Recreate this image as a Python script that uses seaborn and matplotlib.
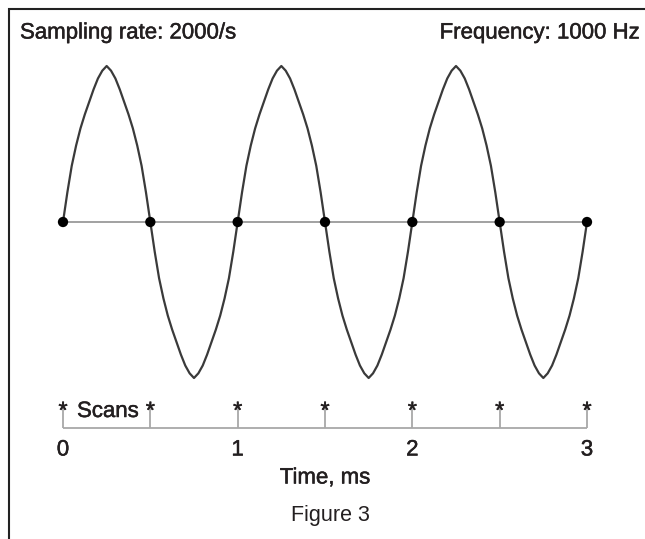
import numpy as np
import pandas as pd
import matplotlib
matplotlib.use("Agg")
import matplotlib.pyplot as plt
import matplotlib.patheffects as pe
import seaborn as sns

# one cycle of the signal (step 0.025 ms, amplitude normalised)
cycle = [0, 0.19, 0.36, 0.49, 0.60, 0.69, 0.77, 0.85, 0.92, 0.97, 1.00,
         0.97, 0.92, 0.85, 0.77, 0.69, 0.60, 0.49, 0.36, 0.19, 0,
         -0.19, -0.36, -0.49, -0.60, -0.69, -0.77, -0.85, -0.92, -0.97, -1.00,
         -0.97, -0.92, -0.85, -0.77, -0.69, -0.60, -0.49, -0.36, -0.19, 0]
n_cycles = 3
step_ms = 0.025
signal = cycle[:-1] * n_cycles + [0]
time_ms = np.arange(len(signal)) * step_ms

# scans at 2000/s
scan_times = [0, 0.5, 1.0, 1.5, 2.0, 2.5, 3.0]
scan_values = [0, 0, 0, 0, 0, 0, 0]
tick_values = [0, 1, 2, 3]
tick_labels = ["0", "1", "2", "3"]

df_sig = pd.DataFrame({"t": time_ms, "v": signal})
df_scan = pd.DataFrame({"t": scan_times, "v": scan_values})

sns.set_style("white")
plt.rcParams["font.family"] = ["Liberation Sans", "DejaVu Sans"]
ink = "#231f20"
fs = 16
bold_fx = [pe.withStroke(linewidth=0.35, foreground=ink)]
txt = dict(fontsize=fs, color=ink, path_effects=bold_fx)

fig = plt.figure(figsize=(6.45, 5.39), dpi=100)
ax = fig.add_axes([0, 0, 1, 1])
# pixel mapping: t=0 -> x 63, t=3 -> x 587 ; v=0 -> y 222, 1 unit = 156 px
px = 524 / 3
ax.set_xlim(-63 / px, (645 - 63) / px)
ax.set_ylim(-(539 - 222) / 156, 222 / 156)
ax.axis("off")


def ypix(p):
    return -(p - 222) / 156


# zero line between first and last scan
ax.hlines(0, scan_times[0], scan_times[-1], color="#9a9a9a", lw=1.3, zorder=1)
sns.lineplot(data=df_sig, x="t", y="v", ax=ax, color="#3a3a3a", lw=1.6, zorder=2)
sns.scatterplot(data=df_scan, x="t", y="v", ax=ax, color="black", s=55,
                edgecolor="none", zorder=3)

# time axis with scan markers
ax.hlines(ypix(428), scan_times[0], scan_times[-1], color="#a8a8a8", lw=1.3)
ax.vlines(scan_times, ypix(428), ypix(403), color="#a8a8a8", lw=1.3)
for t in scan_times:
    ax.text(t, ypix(418), "*", ha="center", va="baseline", fontsize=17,
            color=ink, path_effects=bold_fx)
ax.text(scan_times[0] + 14 / px, ypix(417), "Scans", ha="left", va="baseline", **txt)
for t, lab in zip(tick_values, tick_labels):
    ax.text(t, ypix(450), lab, ha="center", va="center", **txt)
ax.text(1.5, ypix(478), "Time, ms", ha="center", va="center", **txt)

fig.text(20 / 645, 1 - 33 / 539, "Sampling rate: 2000/s", ha="left", va="center", **txt)
fig.text(640 / 645, 1 - 33 / 539, "Frequency: 1000 Hz", ha="right", va="center", **txt)
fig.text(330 / 645, 1 - 516 / 539, "Figure 3", ha="center", va="center",
         fontsize=15.5, color=ink)

# frame around the figure (left and top edges visible)
fig.add_artist(plt.Rectangle((8.5 / 645, -0.05), 1.2, 1 - 9 / 539 + 0.05,
                             transform=fig.transFigure, fill=False,
                             edgecolor="#222222", lw=1.5))

fig.savefig("out.png", dpi=100)
